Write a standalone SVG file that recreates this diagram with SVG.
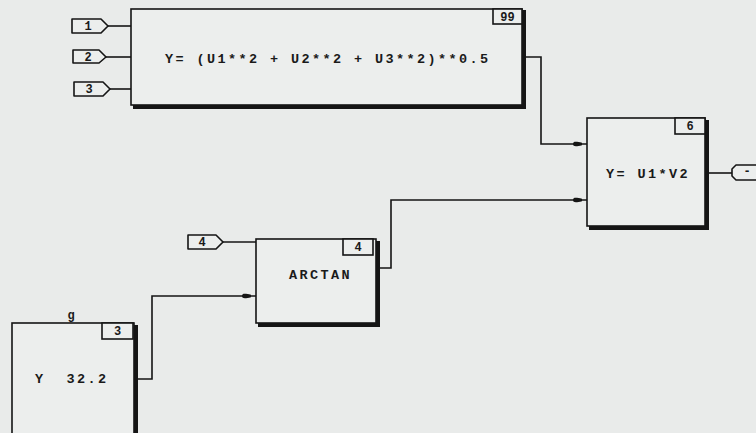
<svg xmlns="http://www.w3.org/2000/svg" width="756" height="433" viewBox="0 0 756 433">
  <defs>
    <style>
      .bg { fill: #e9ebea; }
      .box { fill: #eceeed; stroke: #151515; stroke-width: 1.6; }
      .shadow { fill: none; stroke: #151515; stroke-width: 4; stroke-linejoin: miter; }
      .tag { fill: #eceeed; stroke: #151515; stroke-width: 1.6; stroke-linejoin: round; }
      .wire { fill: none; stroke: #151515; stroke-width: 1.6; }
      .lbl { font-family: "Liberation Mono", "DejaVu Sans Mono", monospace; font-size: 13.5px; font-weight: bold; fill: #1a1a1a; letter-spacing: 2.4px; }
      .num { font-family: "Liberation Mono", "DejaVu Sans Mono", monospace; font-size: 12px; font-weight: bold; fill: #1a1a1a; text-anchor: middle; }
    </style>
    <marker id="dot" markerUnits="userSpaceOnUse" viewBox="0 0 14 6" markerWidth="14" markerHeight="6" refX="14" refY="3" orient="auto">
      <path d="M0,3 C0,0.2 3,0.4 9,1.8 L9,4.2 C3,5.6 0,5.8 0,3 Z" fill="#151515"/>
    </marker>
  </defs>

  <rect class="bg" x="0" y="0" width="756" height="433"/>

  <!-- connectors -->
  <g id="connectors">
    <path class="wire" d="M108,26 H131"/>
    <path class="wire" d="M106,57 H131"/>
    <path class="wire" d="M110,89 H131"/>
    <path class="wire" d="M524,57 H541 V144 H587" marker-end="url(#dot)"/>
    <path class="wire" d="M379,268 H391 V200 H587" marker-end="url(#dot)"/>
    <path class="wire" d="M223,242 H256"/>
    <path class="wire" d="M136,379 H152 V296 H256" marker-end="url(#dot)"/>
    <path class="wire" d="M707,173 H732"/>
  </g>

  <!-- input tags -->
  <g id="in1">
    <path class="tag" d="M72,19 H101 L108,26 L101,33 H72 Z"/>
    <text class="num" x="88" y="30">1</text>
  </g>
  <g id="in2">
    <path class="tag" d="M73,50 H99 L106,57 L99,63 H73 Z"/>
    <text class="num" x="88" y="61">2</text>
  </g>
  <g id="in3">
    <path class="tag" d="M74,82 H103 L110,89 L103,96 H74 Z"/>
    <text class="num" x="89" y="93">3</text>
  </g>
  <g id="in4">
    <path class="tag" d="M188,235 H216 L223,242 L216,249 H188 Z"/>
    <text class="num" x="202" y="246">4</text>
  </g>

  <!-- output tag -->
  <g id="out">
    <path class="tag" d="M736,165 H760 V180 H736 L732,176 V169 Z"/>
    <text class="num" x="747" y="175">-</text>
  </g>

  <!-- block 99: magnitude -->
  <g id="block99">
    <rect class="box" x="131" y="9" width="391" height="96"/>
    <path class="shadow" d="M524,10 V107 H133"/>
    <rect class="box" x="493" y="9" width="29" height="15"/>
    <text class="num" x="507.5" y="20.5">99</text>
    <text class="lbl" x="165" y="63">Y= (U1**2 + U2**2 + U3**2)**0.5</text>
  </g>

  <!-- block 6: product -->
  <g id="block6">
    <rect class="box" x="587" y="118" width="118" height="108"/>
    <path class="shadow" d="M707,120 V228 H589"/>
    <rect class="box" x="675" y="118" width="30" height="16"/>
    <text class="num" x="690" y="130">6</text>
    <text class="lbl" x="606" y="178">Y= U1*V2</text>
  </g>

  <!-- block 4: arctan -->
  <g id="block4">
    <rect class="box" x="256" y="239" width="120" height="84"/>
    <path class="shadow" d="M378,241 V325 H258"/>
    <rect class="box" x="343" y="239" width="30" height="16"/>
    <text class="num" x="358" y="251">4</text>
    <text class="lbl" x="289" y="279">ARCTAN</text>
  </g>

  <!-- block 3: constant g -->
  <g id="block3">
    <rect class="box" x="12" y="323" width="122" height="130"/>
    <path class="shadow" d="M136,325 V440"/>
    <rect class="box" x="102" y="323" width="31" height="16"/>
    <text class="num" x="117.5" y="335">3</text>
    <text class="num" x="71" y="319">g</text>
    <text class="lbl" x="35" y="383" xml:space="preserve">Y  32.2</text>
  </g>
</svg>
